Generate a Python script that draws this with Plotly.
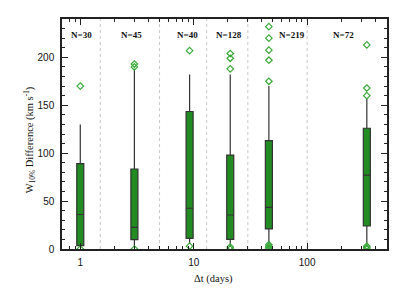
import numpy as np
import plotly.graph_objects as go

# ---- data ----
dt_pos = [1.0, 3.0, 9.2, 21.0, 46.0, 336.0]
q1 = [3.5, 9.7, 11.0, 10.0, 21.0, 24.0]
median = [36.0, 22.5, 42.5, 35.5, 43.5, 77.0]
q3 = [89.0, 83.5, 143.5, 98.0, 113.0, 126.0]
lower_fence = [3.5, 3.0, 6.0, 3.0, 6.0, 5.0]
upper_fence = [130.0, 188.0, 182.0, 182.0, 170.0, 157.0]
outliers = [
    [170.0, 0.0],
    [190.0, 193.0, 0.0],
    [207.0, 3.0],
    [188.0, 199.0, 204.0, 0.0, 2.0],
    [175.0, 197.0, 207.5, 220.0, 232.0, 0.0, 1.5, 3.0, 4.5],
    [160.0, 168.0, 213.0, 0.0, 1.5, 3.0],
]
n_labels = ["N=30", "N=45", "N=40", "N=128", "N=219", "N=72"]
n_label_x = [1.02, 2.8, 8.8, 20.5, 73.0, 208.0]
n_label_y = 223
bin_edges = [1.5, 5.0, 13.0, 30.0, 100.0]
x_major = [1, 10, 100]
x_major_text = ["1", "10", "100"]
x_range = [0.69, 506.0]
y_range = [0, 240]

BOX_FILL = "#228B22"
OUT_COL = "#3aa83a"
LINE_COL = "#333333"

fig = go.Figure()

lx = np.log10(dt_pos)
fig.add_trace(go.Box(
    x=lx, q1=q1, median=median, q3=q3,
    lowerfence=lower_fence, upperfence=upper_fence,
    width=0.062, whiskerwidth=0,
    fillcolor=BOX_FILL, line=dict(color=LINE_COL, width=1.2),
    boxpoints=False, showlegend=False, hoverinfo="skip",
))

ox, oy = [], []
for p, vals in zip(dt_pos, outliers):
    for v in vals:
        ox.append(np.log10(p))
        oy.append(v)
fig.add_trace(go.Scatter(
    x=ox, y=oy, mode="markers",
    marker=dict(symbol="diamond-open", size=5, color=OUT_COL,
                line=dict(width=1.2, color=OUT_COL)),
    showlegend=False, hoverinfo="skip",
))

for e in bin_edges:
    fig.add_shape(type="line", xref="x", yref="paper",
                  x0=np.log10(e), x1=np.log10(e), y0=0, y1=1,
                  line=dict(color="#c8c8c8", width=1, dash="dot"), layer="below")

for t, xv in zip(n_labels, n_label_x):
    fig.add_annotation(x=np.log10(xv), y=n_label_y, xref="x", yref="y",
                       text="<b>" + t + "</b>", showarrow=False,
                       font=dict(family="Liberation Serif", size=9, color="#111"))

fig.add_annotation(xref="paper", yref="paper", x=0.467, y=-0.095,
                   text="Δt (days)", showarrow=False, xanchor="center", yanchor="top",
                   font=dict(family="Liberation Serif", size=10.5, color="#111"))
fig.add_annotation(xref="paper", yref="paper", x=-0.1, y=0.475,
                   text="W<sub>10%</sub> Difference (km s<sup>-1</sup>)",
                   textangle=-90, showarrow=False, xanchor="center", yanchor="middle",
                   font=dict(family="Liberation Serif", size=10.5, color="#111"))

minor_x = [0.7, 0.8, 0.9] + [d * m for m in (1, 10, 100) for d in range(2, 10) if d * m <= 500]

fig.update_layout(
    width=407, height=291,
    margin=dict(l=62, r=20, t=19, b=42),
    paper_bgcolor="white", plot_bgcolor="white",
    xaxis=dict(range=[np.log10(x_range[0]), np.log10(x_range[1])],
               tickmode="array", tickvals=np.log10(x_major), ticktext=x_major_text,
               ticks="inside", ticklen=6, tickcolor="#222", tickwidth=1,
               minor=dict(tickmode="array", tickvals=np.log10(minor_x), ticks="inside",
                          ticklen=3, tickcolor="#222", tickwidth=1, showgrid=False),
               showline=True, linecolor="#222", linewidth=1.5, mirror="ticks",
               showgrid=False, zeroline=False, ticklabelstandoff=3,
               tickfont=dict(family="Liberation Sans", size=10, color="#111")),
    yaxis=dict(range=y_range, tickmode="linear", tick0=0, dtick=50,
               ticks="inside", ticklen=6, tickcolor="#222", tickwidth=1,
               minor=dict(dtick=10, ticks="inside", ticklen=3, tickcolor="#222",
                          tickwidth=1, showgrid=False),
               showline=True, linecolor="#222", linewidth=1.5, mirror="ticks",
               showgrid=False, zeroline=False, ticklabelstandoff=4,
               tickfont=dict(family="Liberation Sans", size=10, color="#111")),
)

fig.write_html("out.html", config={"displayModeBar": False},
               post_script="document.body.style.margin='0';")
